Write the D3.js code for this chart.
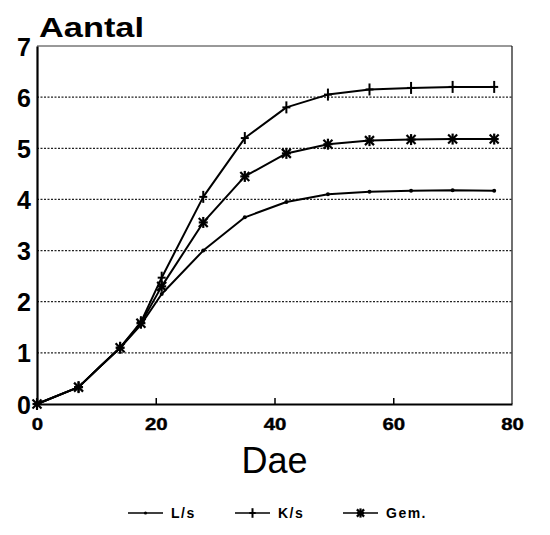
<!DOCTYPE html>
<html><head><meta charset="utf-8">
<script src="https://cdn.jsdelivr.net/npm/d3@7"></script>
<style>
body{margin:0;background:#fff;}
text{font-family:"Liberation Sans",Arial,Helvetica,sans-serif;fill:#000;}
</style></head>
<body><svg id="c" width="550" height="535"></svg>
<script>
const days = [0, 7, 10.5, 14, 17.5, 21, 28, 35, 42, 49, 56, 63, 70, 77];
const ls   = [0, 0.33, 0.72, 1.1, 1.55, 2.15, 3.0, 3.65, 3.95, 4.1, 4.15, 4.17, 4.18, 4.17];
const ks   = [0, 0.33, 0.72, 1.1, 1.6, 2.47, 4.05, 5.2, 5.8, 6.05, 6.15, 6.18, 6.2, 6.2];
const gem  = [0, 0.33, 0.72, 1.1, 1.58, 2.3, 3.55, 4.45, 4.9, 5.08, 5.15, 5.17, 5.18, 5.18];
const markerDays = [0, 7, 14, 17.5, 21, 28, 35, 42, 49, 56, 63, 70, 77];
const seriesNames = ["L/s", "K/s", "Gem."];
const xTicks = [0, 20, 40, 60, 80];
const yTicks = [0, 1, 2, 3, 4, 5, 6, 7];
const yTitle = "Aantal";
const xTitle = "Dae";

const svg = d3.select("#c");
const L = 37, R = 512, T = 46, B = 404;
const x = d3.scaleLinear().domain([0, 80]).range([L, R]);
const y = d3.scaleLinear().domain([0, 7]).range([B, T]);

// gridlines
svg.append("g").selectAll("line").data(yTicks.filter(v => v > 0 && v < 7)).join("line")
  .attr("x1", L).attr("x2", R).attr("y1", d => y(d)).attr("y2", d => y(d))
  .attr("stroke", "#222").attr("stroke-width", 1.2).attr("stroke-dasharray", "2,1.5");

// frame
svg.append("line").attr("x1", L).attr("x2", R).attr("y1", T).attr("y2", T).attr("stroke", "#333").attr("stroke-width", 1);
svg.append("line").attr("x1", R).attr("x2", R).attr("y1", T).attr("y2", B).attr("stroke", "#111").attr("stroke-width", 1.2);

// x axis
const xa = svg.append("g").attr("transform", `translate(0,${B})`)
  .call(d3.axisBottom(x).tickValues(xTicks).tickFormat(d3.format("d")).tickSizeInner(-6).tickSizeOuter(0).tickPadding(14));
xa.select(".domain").attr("stroke", "#000").attr("stroke-width", 2);
xa.selectAll(".tick line").attr("stroke", "#000").attr("stroke-width", 1.5)
  .attr("display", d => (d === 0 || d === 80) ? "none" : null);
xa.selectAll(".tick text").attr("font-size", 17).attr("font-weight", "bold")
  .attr("font-family", "Liberation Sans, Arial, sans-serif")
  .attr("transform", "scale(1.2,1)")
  .attr("stroke", "#000").attr("stroke-width", 0.4)
  .attr("dy", "0.71em");

// y axis
const ya = svg.append("g").attr("transform", `translate(${L},0)`)
  .call(d3.axisLeft(y).tickValues(yTicks).tickFormat(d3.format("d")).tickSize(0).tickPadding(6));
ya.select(".domain").attr("stroke", "#000").attr("stroke-width", 2.2);
ya.selectAll(".tick text").attr("font-size", 25).attr("font-weight", "bold")
  .attr("font-family", "Liberation Sans, Arial, sans-serif").attr("dy", "0.36em");

// titles
svg.append("text").attr("x", 39).attr("y", 37).attr("font-size", 27).attr("font-weight", "bold")
  .attr("textLength", 105).attr("lengthAdjust", "spacingAndGlyphs").text(yTitle);
svg.append("text").attr("x", (L + R) / 2).attr("y", 473).attr("text-anchor", "middle")
  .attr("font-size", 36).text(xTitle);

// series
const series = [ls, ks, gem].map((vals, i) => ({name: seriesNames[i], vals}));
const line = d3.line().x(d => x(d[0])).y(d => y(d[1]));
series.forEach(s => {
  svg.append("path").datum(days.map((d, i) => [d, s.vals[i]]))
    .attr("d", line).attr("fill", "none").attr("stroke", "#000").attr("stroke-width", 2)
    .attr("stroke-linejoin", "round");
});

function marker(g, type, cx, cy, sc) {
  sc = sc || 1;
  if (type === 0) {
    g.append("circle").attr("cx", cx).attr("cy", cy).attr("r", 2 * sc).attr("fill", "#000");
  } else if (type === 1) {
    g.append("line").attr("x1", cx).attr("x2", cx).attr("y1", cy - 6 * sc).attr("y2", cy + 6 * sc).attr("stroke", "#000").attr("stroke-width", 2);
    g.append("line").attr("x1", cx - 4 * sc).attr("x2", cx + 4 * sc).attr("y1", cy).attr("y2", cy).attr("stroke", "#000").attr("stroke-width", 2);
  } else {
    const r = 4.5 * sc;
    [[-r, -r, r, r], [-r, r, r, -r], [0, -r-1, 0, r+1], [-r, 0, r, 0]].forEach(p =>
      g.append("line").attr("x1", cx + p[0]).attr("y1", cy + p[1]).attr("x2", cx + p[2]).attr("y2", cy + p[3])
        .attr("stroke", "#000").attr("stroke-width", 2.2));
  }
}
const mg = svg.append("g");
series.forEach((s, si) => {
  days.forEach((d, i) => {
    if (markerDays.includes(d)) marker(mg, si, x(d), y(s.vals[i]));
  });
});

// legend
const legX = [128, 235, 343];
const legY = 513;
seriesNames.forEach((n, i) => {
  const g = svg.append("g");
  g.append("line").attr("x1", legX[i]).attr("x2", legX[i] + 35).attr("y1", legY).attr("y2", legY)
    .attr("stroke", "#000").attr("stroke-width", 1.5);
  marker(g, i, legX[i] + 17.5, legY, 0.8);
  g.append("text").attr("x", legX[i] + 43).attr("y", legY).attr("dy", "0.36em")
    .attr("font-size", 14).attr("font-weight", "bold").attr("letter-spacing", 1.5).text(n);
});
</script></body></html>
